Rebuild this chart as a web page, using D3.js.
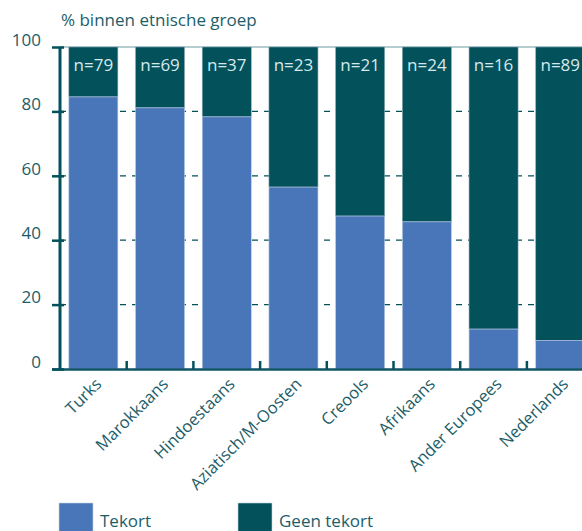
<!DOCTYPE html>
<html>
<head>
<meta charset="utf-8">
<script src="https://cdn.jsdelivr.net/npm/d3@7"></script>
<style>
  body { margin: 0; background: #fff; }
  svg { display: block; font-family: "Open Sans", sans-serif; }
</style>
</head>
<body>
<svg id="chart" width="582" height="531"></svg>
<script>
// groups, share with a deficit (%), and sample sizes
const groups = ["Turks", "Marokkaans", "Hindoestaans", "Aziatisch/M-Oosten",
                "Creools", "Afrikaans", "Ander Europees", "Nederlands"];
const tekort = [84.5, 81.1, 78.3, 56.5, 47.5, 45.7, 12.4, 8.9];
const sizes = [79, 69, 37, 23, 21, 24, 16, 89];
const yTicks = [0, 20, 40, 60, 80, 100];

const blue = "#4876b9",
  teal = "#02515b",
  textCol = "#1c5d68";

const svg = d3.select("#chart");
const plotLeft = 60, plotTop = 47, plotBottom = 369;

const x = d3.scaleBand().domain(groups)
  .range([plotLeft, plotLeft + 8 * 66.7])
  .paddingInner(0.265).paddingOuter(0.1325);
const y = d3.scaleLinear().domain([0, 100]).range([plotBottom, plotTop]);

// dashed gridlines behind bars
svg.append("g").selectAll("line")
  .data(yTicks.filter(d => d > 0 && d < 100)).enter()
  .append("line")
    .attr("x1", plotLeft).attr("x2", 582)
    .attr("y1", d => y(d)).attr("y2", d => y(d))
    .attr("stroke", teal).attr("stroke-width", 1.2)
    .attr("stroke-dasharray", "6,6");

// light line at 100
svg.append("line")
  .attr("x1", plotLeft).attr("x2", 582)
  .attr("y1", y(100)).attr("y2", y(100))
  .attr("stroke", "#9dbcc1").attr("stroke-width", 1.5);

const data = groups.map((g, i) => ({ g: g, v: tekort[i], n: sizes[i] }));

const bars = svg.append("g").selectAll("g").data(data).enter().append("g");

// "Geen tekort" part on top
bars.append("rect")
  .attr("x", d => x(d.g)).attr("width", x.bandwidth())
  .attr("y", y(100)).attr("height", d => y(d.v) - y(100))
  .attr("fill", teal).attr("stroke", "#8aa9b2").attr("stroke-width", 0.6);

// "Tekort" part
bars.append("rect")
  .attr("x", d => x(d.g)).attr("width", x.bandwidth())
  .attr("y", d => y(d.v)).attr("height", d => y(0) - y(d.v))
  .attr("fill", blue).attr("stroke", "#b9cbe4").attr("stroke-width", 0.6);

// sample sizes
bars.append("text")
  .attr("x", d => x(d.g) + x.bandwidth() / 2)
  .attr("y", 71)
  .attr("text-anchor", "middle")
  .attr("fill", "#d6e9ec")
  .style("font-size", "17px")
  .text(d => "n=" + d.n);

// x baseline
svg.append("line")
  .attr("x1", 52).attr("x2", 582)
  .attr("y1", plotBottom + 0.5).attr("y2", plotBottom + 0.5)
  .attr("stroke", "#0f5566").attr("stroke-width", 2.5);

// small ticks between bars
const step = x.step();
svg.append("g").selectAll("line")
  .data(groups.slice(1)).enter()
  .append("line")
    .attr("x1", d => x(d) - step * x.paddingInner() / 2)
    .attr("x2", d => x(d) - step * x.paddingInner() / 2)
    .attr("y1", plotBottom).attr("y2", plotBottom - 8)
    .attr("stroke", teal).attr("stroke-width", 2.5);

// y axis
const yAxis = svg.append("g").attr("transform", `translate(${plotLeft},0)`)
  .call(d3.axisLeft(y).tickValues(yTicks).tickSize(8).tickPadding(11));
yAxis.select(".domain").remove();
yAxis.selectAll(".tick line").attr("stroke", teal).attr("stroke-width", 2.5)
  .attr("x2", -8).attr("x1", 4);
yAxis.selectAll(".tick text")
  .attr("fill", textCol).attr("dy", "-0.1em")
  .style("font-size", "17px").style("font-family", "'Open Sans', sans-serif");
svg.append("line")
  .attr("x1", plotLeft).attr("x2", plotLeft)
  .attr("y1", plotTop).attr("y2", plotBottom + 1)
  .attr("stroke", teal).attr("stroke-width", 3);

// title
svg.append("text")
  .attr("x", 61).attr("y", 26)
  .attr("fill", textCol)
  .style("font-size", "17px")
  .text("% binnen etnische groep");

// rotated category labels
svg.append("g").selectAll("text")
  .data(groups).enter()
  .append("text")
    .attr("transform", d => `translate(${x(d) + x.bandwidth() / 2 + 1},${plotBottom + 8}) rotate(-45)`)
    .attr("text-anchor", "end")
    .attr("dy", "0.7em")
    .attr("fill", textCol)
    .style("font-size", "16.5px")
    .text(d => d);

// legend
const legend = [{ label: "Tekort", color: blue, x: 59 }, { label: "Geen tekort", color: teal, x: 238 }];
const lg = svg.append("g").selectAll("g").data(legend).enter().append("g");
lg.append("rect")
  .attr("x", d => d.x).attr("y", 503)
  .attr("width", 34).attr("height", 30)
  .attr("fill", d => d.color).attr("stroke", "#c3d3e3").attr("stroke-width", 0.6);
lg.append("text")
  .attr("x", d => d.x + 41).attr("y", 527)
  .attr("fill", textCol)
  .style("font-size", "17px")
  .text(d => d.label);
</script>
</body>
</html>
